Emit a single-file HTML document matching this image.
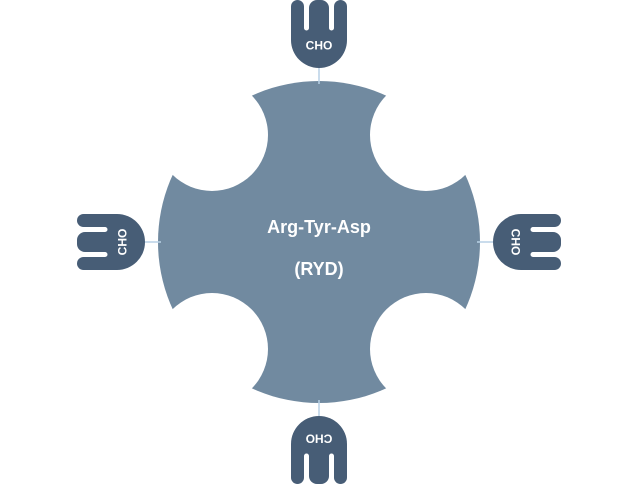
<!DOCTYPE html>
<html><head><style>
html,body{margin:0;padding:0;background:#fff;}
svg{display:block;}
</style></head><body>
<svg width="640" height="485" viewBox="0 0 640 485" xmlns="http://www.w3.org/2000/svg">
<defs>
<mask id="m">
<rect width="640" height="485" fill="#fff"/>
<circle cx="212" cy="135" r="56" fill="#000"/>
<circle cx="426" cy="135" r="56" fill="#000"/>
<circle cx="212" cy="349" r="56" fill="#000"/>
<circle cx="426" cy="349" r="56" fill="#000"/>
</mask>
<g id="g">
<line x1="319" y1="66" x2="319" y2="84" stroke="#b9d1e6" stroke-width="1.5"/>
<g transform="translate(319,0)" fill="#475d76">
<rect x="-28" y="0" width="13" height="40" rx="6.5"/>
<rect x="-10" y="0" width="20" height="40" rx="8"/>
<rect x="15" y="0" width="13" height="40" rx="6.5"/>
<path d="M-28,26 L28,26 L28,40 A28,28 0 0 1 -28,40 Z"/>
<path d="M-15,26 L-15,28 A2.5,2.5 0 0 0 -10,28 L-10,26 Z M10,26 L10,28 A2.5,2.5 0 0 0 15,28 L15,26 Z" fill="#fff"/>
<rect x="-15" y="20" width="5" height="8" fill="#fff"/>
<rect x="10" y="20" width="5" height="8" fill="#fff"/>
<text x="0" y="49.5" text-anchor="middle" fill="#fff" font-family="Liberation Sans, sans-serif" font-weight="bold" font-size="12">CHO</text>
</g>
</g>
</defs>
<line x1="158" y1="242" x2="480" y2="242" stroke="#b9d1e6" stroke-width="1.5"/>
<line x1="319" y1="83" x2="319" y2="402" stroke="#b9d1e6" stroke-width="1.5"/>
<circle cx="319" cy="242" r="161" fill="#718aa0" mask="url(#m)"/>
<use href="#g"/>
<use href="#g" transform="rotate(90 319 242)"/>
<use href="#g" transform="rotate(180 319 242)"/>
<use href="#g" transform="rotate(270 319 242)"/>
<text x="319" y="233" text-anchor="middle" fill="#fff" font-family="Liberation Sans, sans-serif" font-weight="bold" font-size="18">Arg-Tyr-Asp</text>
<text x="319" y="275" text-anchor="middle" fill="#fff" font-family="Liberation Sans, sans-serif" font-weight="bold" font-size="18">(RYD)</text>
</svg>
</body></html>
